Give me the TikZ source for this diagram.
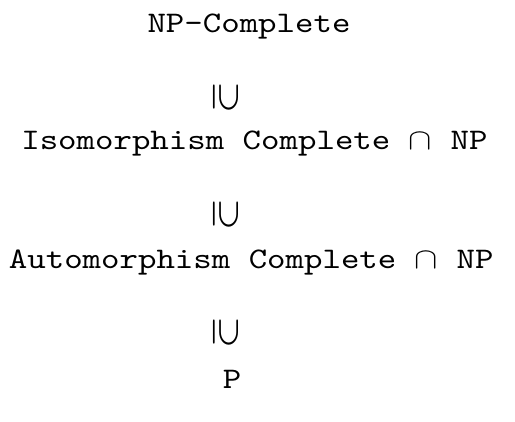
\documentclass[tikz,border=0pt]{standalone}
\usepackage{fontspec}
\newfontfamily\typew{lmmono10-regular}[Extension=.otf]
\usepackage{tikz}
\usetikzlibrary{positioning}

\newcommand{\vsupeq}{\scalebox{0.8}[1.03]{\rotatebox{-90}{\boldmath$\supseteq$}}}

\begin{document}
\begin{tikzpicture}[
  lbl/.style={anchor=base,inner sep=0pt,yscale=0.85,font=\typew\fontsize{25}{28}\selectfont},
  subs/.style={inner sep=0pt,font=\fontsize{31.5}{34}\selectfont}
]
\useasboundingbox (0,0) rectangle (12.875,-10.525);
% ---- classes ----
\node[lbl] (npc) at (6.225,-0.80) {NP-Complete};
\node[lbl] (iso) at (6.36,-3.725) {Isomorphism Complete $\cap$ NP};
\node[lbl] (auto) at (6.28,-6.70) {Automorphism Complete $\cap$ NP};
\node[lbl] (p) at (5.80,-9.70) {P};

% ---- inclusions ----
\node[subs] (sub1) at (5.64,-2.44) {\vsupeq};
\node[subs] (sub2) at (5.64,-5.36) {\vsupeq};
\node[subs] (sub3) at (5.64,-8.31) {\vsupeq};
\end{tikzpicture}
\end{document}
